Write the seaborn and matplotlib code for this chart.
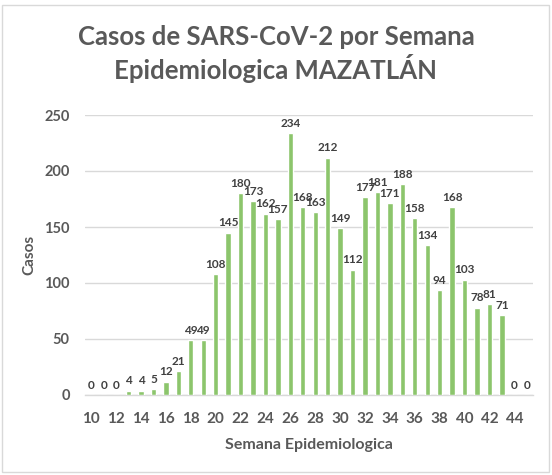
import matplotlib
matplotlib.use("Agg")
import matplotlib.pyplot as plt
import seaborn as sns
import pandas as pd
from matplotlib.patches import Rectangle

semanas = list(range(10, 46))
casos = [0, 0, 0, 4, 4, 5, 12, 21, 49, 49, 108, 145, 180, 173, 162, 157, 234,
         168, 163, 212, 149, 112, 177, 181, 171, 188, 158, 134, 94, 168, 103,
         78, 81, 71, 0, 0]
titulo = "Casos de SARS-CoV-2 por Semana\nEpidemiologica MAZATLÁN"
eje_x = "Semana Epidemiologica"
eje_y = "Casos"

sns.set_theme(style="white")
plt.rcParams["font.family"] = ["Lato", "DejaVu Sans"]

df = pd.DataFrame({"semana": [str(s) for s in semanas], "casos": casos})

fig = plt.figure(figsize=(5.52, 4.75), dpi=100)
ax = fig.add_axes([85 / 552, 80 / 475, 448 / 552, 280 / 475])

sns.barplot(data=df, x="semana", y="casos", color="#8CC56C", width=0.42,
            saturation=1, ax=ax, zorder=3)

ax.set_ylim(0, 250)
ax.set_yticks(range(0, 251, 50))
ax.yaxis.grid(True, color="#d9d9d9", linewidth=1, zorder=0)
for s in ["top", "right", "left"]:
    ax.spines[s].set_visible(False)
ax.spines["bottom"].set_color("#d9d9d9")
ax.spines["bottom"].set_linewidth(1)

etiquetas = [s if int(s) % 2 == 0 else "" for s in df["semana"]]
ax.set_xticks(range(len(semanas)))
ax.set_xticklabels(etiquetas)
ax.tick_params(axis="x", length=0, pad=12, labelsize=11, labelcolor="#595959")
ax.tick_params(axis="y", length=0, pad=11, labelsize=10.5, labelcolor="#595959")
for lbl in ax.get_xticklabels() + ax.get_yticklabels():
    lbl.set_fontweight("bold")

ax.bar_label(ax.containers[0], labels=[str(v) for v in casos], padding=3,
             fontsize=8.5, fontweight="bold", color="#404040")

ax.set_xlabel(eje_x, fontsize=11.5, fontweight="bold", color="#595959", labelpad=9)
ax.set_ylabel(eje_y, fontsize=11, fontweight="bold", color="#595959", labelpad=6)

fig.text(276 / 552, 1 - 54 / 475, titulo, ha="center", va="center",
         fontsize=18.5, fontweight="bold", color="#595959", linespacing=1.2)

fig.patches.append(Rectangle((2 / 552, 3 / 475), 547 / 552, 467 / 475,
                             transform=fig.transFigure, fill=False,
                             edgecolor="#d9d9d9", linewidth=1))

fig.savefig("out.png", dpi=100)
